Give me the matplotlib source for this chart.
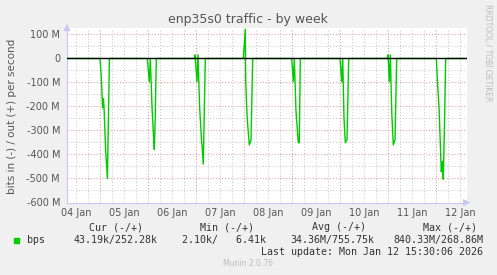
import numpy as np
import matplotlib
matplotlib.use("Agg")
import matplotlib.pyplot as plt

# horas desde 04 Jan 00:00, valores en Mbit/s (negativo = entrada)
t_hours = [7.5,
           24.0, 24.6, 25.3, 25.7, 26.0, 26.8, 27.7, 28.2, 28.7,
           47.65, 48.65, 49.15, 50.0, 50.8, 51.15, 51.6, 52.15,
           71.2, 71.5, 72.5, 73.0, 73.8, 74.85, 75.0, 75.65, 76.65,
           95.65, 96.65, 96.85, 97.6, 98.65, 99.5, 100.35,
           119.85, 120.65, 121.15, 122.0, 123.15, 123.65, 124.15,
           144.0, 144.85, 145.35, 146.0, 146.65, 147.5, 148.35,
           167.7, 168.0, 168.65, 169.15, 169.9, 170.65, 171.5, 172.35,
           192.15, 192.9, 193.35, 193.5, 194.65, 195.15, 195.65, 196.3, 196.85,
           207.5]
bps_M = [0,
         0, -70, -206, -168, -200, -380, -500, -250, 0,
         0, -97, 0, -200, -330, -379, -250, 0,
         0, 15, -97, 15, -200, -356, -360, -440, 0,
         0, 122, -97, -250, -360, -340, 0,
         0, -97, 0, -220, -351, -351, 0,
         0, -97, 0, -250, -351, -338, 0,
         0, 15, -97, 15, -230, -360, -340, 0,
         0, -120, -180, -200, -472, -430, -503, -250, 0,
         0]

day_labels = ["04 Jan", "05 Jan", "06 Jan", "07 Jan", "08 Jan",
              "09 Jan", "10 Jan", "11 Jan", "12 Jan"]
y_ticks = [100, 0, -100, -200, -300, -400, -500, -600]
y_labels = ["100 M", "0", "-100 M", "-200 M", "-300 M", "-400 M", "-500 M", "-600 M"]

legend_head = ["Cur (-/+)", "Min (-/+)", "Avg (-/+)", "Max (-/+)"]
legend_vals = ["43.19k/252.28k", "2.10k/   6.41k", "34.36M/755.75k", "840.33M/268.86M"]

W, H = 497, 275
fig = plt.figure(figsize=(W / 100, H / 100), dpi=100, facecolor="#f0f0f0")
x0, x1, y0, y1 = 67, 467, 28, 202.5
ax = fig.add_axes([x0 / W, 1 - y1 / H, (x1 - x0) / W, (y1 - y0) / H])
ax.set_facecolor("white")

ax.set_xlim(7.5, 207.5)
ax.set_ylim(-600, 127)

# rejilla menor (gris) y mayor (roja)
ax.set_xticks(np.arange(12, 207, 24))
ax.set_xticklabels(day_labels)
ax.set_yticks(y_ticks)
ax.set_yticklabels(y_labels)
for v in np.arange(12, 207.5, 6):
    col = "#e09090" if v % 24 == 0 else "#c4c4c4"
    ax.axvline(v, color=col, lw=0.7, ls=(0, (1, 2)), zorder=1)
for v in np.arange(-550, 127, 50):
    col = "#e09090" if v % 100 == 0 else "#c4c4c4"
    ax.axhline(v, color=col, lw=0.7, ls=(0, (1, 2)), zorder=1)

ax.tick_params(which="both", length=0, labelsize=7, colors="#555555", pad=5)
ax.tick_params(axis="x", pad=4)

for s in ["top", "right"]:
    ax.spines[s].set_visible(False)
for s in ["left", "bottom"]:
    ax.spines[s].set_color("#c8c8f0")
    ax.spines[s].set_linewidth(0.8)
ax.annotate("", xy=(0, 1.04), xytext=(0, 0.98), xycoords="axes fraction",
            arrowprops=dict(arrowstyle="-|>", color="#c8c8f0", lw=0.8), annotation_clip=False)
ax.annotate("", xy=(1.015, 0), xytext=(0.99, 0), xycoords="axes fraction",
            arrowprops=dict(arrowstyle="-|>", color="#c8c8f0", lw=0.8), annotation_clip=False)

ax.plot(t_hours, bps_M, color="#00cc00", lw=1.0, zorder=3)
ax.axhline(0, color="black", lw=1.0, zorder=4)

fig.text(248 / W, 1 - 19 / H, "enp35s0 traffic - by week", ha="center", va="center",
         fontsize=9, color="#555555")
fig.text(12 / W, 1 - 116 / H, "bits in (-) / out (+) per second", rotation=90,
         ha="center", va="center", fontsize=7.5, color="#555555")
fig.text(488 / W, 1 - 53 / H, "RRDTOOL / TOBI OETIKER", rotation=270,
         ha="center", va="center", fontsize=5.5, color="#bbbbbb")

mono = "DejaVu Sans Mono"
fs = 7.2
head_x = [116, 227, 338.5, 450]
for x, s in zip(head_x, legend_head):
    fig.text(x / W, 1 - 227 / H, s, ha="center", va="center", family=mono, fontsize=fs, color="#333333")
fig.patches.append(plt.Rectangle((14 / W, 1 - 243 / H), 5 / W, 5 / H, transform=fig.transFigure,
                                 color="#00cc00"))
fig.text(27 / W, 1 - 240 / H, "bps", ha="left", va="center", family=mono, fontsize=fs, color="#333333")
val_x = [158, 266, 374, 483]
for x, s in zip(val_x, legend_vals):
    fig.text(x / W, 1 - 240 / H, s, ha="right", va="center", family=mono, fontsize=fs, color="#333333")
fig.text(483 / W, 1 - 252 / H, "Last update: Mon Jan 12 15:30:06 2026", ha="right", va="center",
         family=mono, fontsize=fs, color="#333333")
fig.text(248 / W, 1 - 264 / H, "Munin 2.0.76", ha="center", va="center", fontsize=5.5, color="#bbbbbb")

fig.savefig("out.png", dpi=100, facecolor=fig.get_facecolor())
